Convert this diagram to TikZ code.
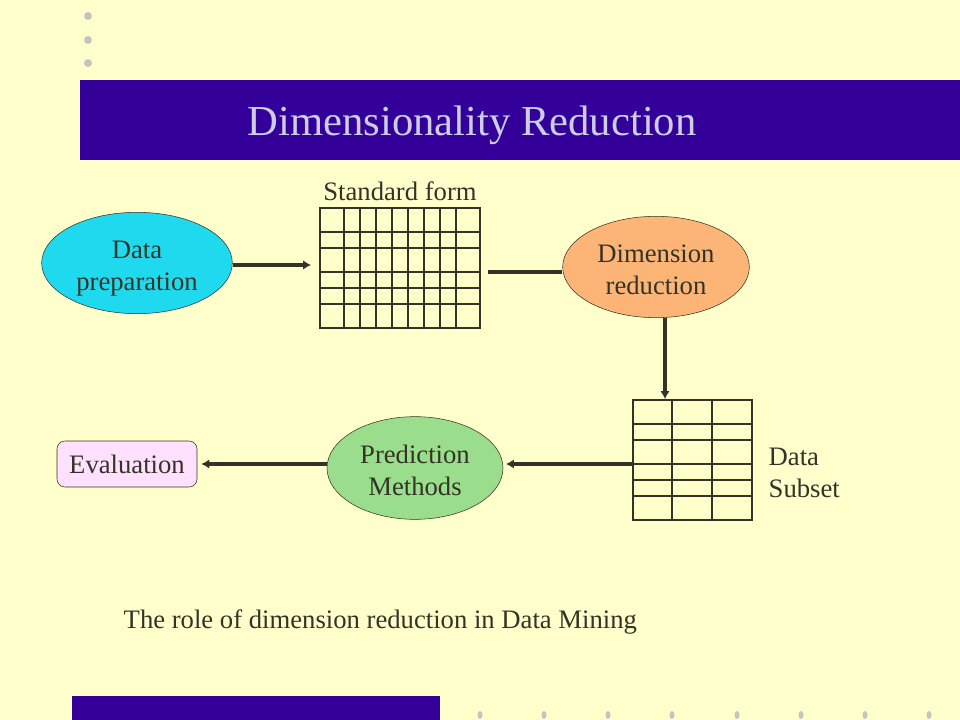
\documentclass[tikz,border=0pt]{standalone}
\usepackage{fontspec}
\setmainfont{Liberation Serif}
\usetikzlibrary{arrows.meta, positioning, shapes.geometric}
\definecolor{CPaper}{HTML}{FFFFCC}
\definecolor{CBand}{HTML}{330099}
\definecolor{CTitle}{HTML}{CDCDE6}
\definecolor{CInk}{HTML}{333326}
\definecolor{CDot}{HTML}{C4C4C0}
\definecolor{CCyan}{HTML}{1FDAEE}
\definecolor{COrange}{HTML}{FCB577}
\definecolor{CGreen}{HTML}{9ADD8C}
\definecolor{CPink}{HTML}{FFE0FF}

\begin{document}
\begin{tikzpicture}[x=0.75pt, y=-0.75pt,
    txt/.style={text=CInk, font=\fontsize{20}{24}\selectfont, align=center},
    blob/.style={ellipse, draw=CInk, thin, inner sep=0pt},
    inside/.style={txt, yshift=-2pt},
    flow/.style={draw=CInk, line width=2.8pt, -{Latex[length=6pt, width=7pt]}},
    gridline/.style={draw=CInk, line width=1.3pt}]
    \useasboundingbox (0,0) rectangle (960,720);
    \fill[CPaper] (0,0) rectangle (960,720);

    % Decoration
    \foreach \y in {16, 40, 63}
        \fill[CDot] (88,\y) circle (4);
    \foreach \x in {480, 544, 608, 672, 737, 801, 865, 929}
        \fill[CDot] (\x,715) ellipse (2.5 and 4);
    \fill[CBand] (80,80) rectangle (960,160);
    \fill[CBand] (72,696) rectangle (440,720);
    \node[text=CTitle, font=\fontsize{32}{38}\selectfont] (title) at (472,125) {Dimensionality Reduction};

    % Ellipses
    \node[blob, fill=CCyan, minimum width=143pt, minimum height=76pt,
        label={[inside, yshift=-2pt]center:Data\\preparation}] (prep) at (137,263) {};
    \node[blob, fill=COrange, minimum width=140pt, minimum height=76pt,
        label={[inside]center:Dimension\\reduction}] (dimred) at (656,267) {};
    \node[blob, fill=CGreen, minimum width=132pt, minimum height=77pt,
        label={[inside]center:Prediction\\Methods}] (predict) at (415,468) {};
    \node[draw=CInk, thin, fill=CPink, rounded corners=6pt, txt, inner sep=0pt,
        minimum width=105pt, minimum height=34.5pt] (eval) at (127,464) {Evaluation};

    % Standard form
    \node[draw=CInk, line width=1.3pt, minimum width=120pt, minimum height=90pt, inner sep=0pt] (stdform) at (400,268) {};
    \foreach \x in {344, 360, 376, 392, 408, 424, 440, 456}
        \draw[gridline] (\x,208) -- (\x,328);
    \foreach \y in {232, 248, 272, 288, 304}
        \draw[gridline] (320,\y) -- (480,\y);
    \node[txt, above=1pt of stdform] (stdlabel) {Standard form};

    % Data subset
    \node[draw=CInk, line width=1.3pt, minimum width=89pt, minimum height=90pt, inner sep=0pt] (subset) at (692.5,460) {};
    \foreach \x in {672, 712}
        \draw[gridline] (\x,400) -- (\x,520);
    \foreach \y in {424, 440, 464, 480, 496}
        \draw[gridline] (633,\y) -- (752,\y);
    \node[txt, align=left, anchor=west] (sublabel) at (764,473) {Data\\Subset};

    % Arrows
    \draw[flow] (prep.east |- 0,265) -- ([xshift=-6pt]stdform.west |- 0,265);
    \draw[draw=CInk, line width=2.8pt] ([xshift=5pt]stdform.east |- 0,272) -- (dimred.west |- 0,272);
    \draw[flow] (dimred.south -| 665,0) -- (subset.north -| 665,0);
    \draw[flow] (subset.west |- 0,464) -- ([xshift=2pt]predict.east |- 0,464);
    \draw[flow] (predict.west |- 0,464) -- ([xshift=3pt]eval.east |- 0,464);

    \node[txt, anchor=west] (caption) at (119,622) {The role of dimension reduction in Data Mining};
\end{tikzpicture}
\end{document}
